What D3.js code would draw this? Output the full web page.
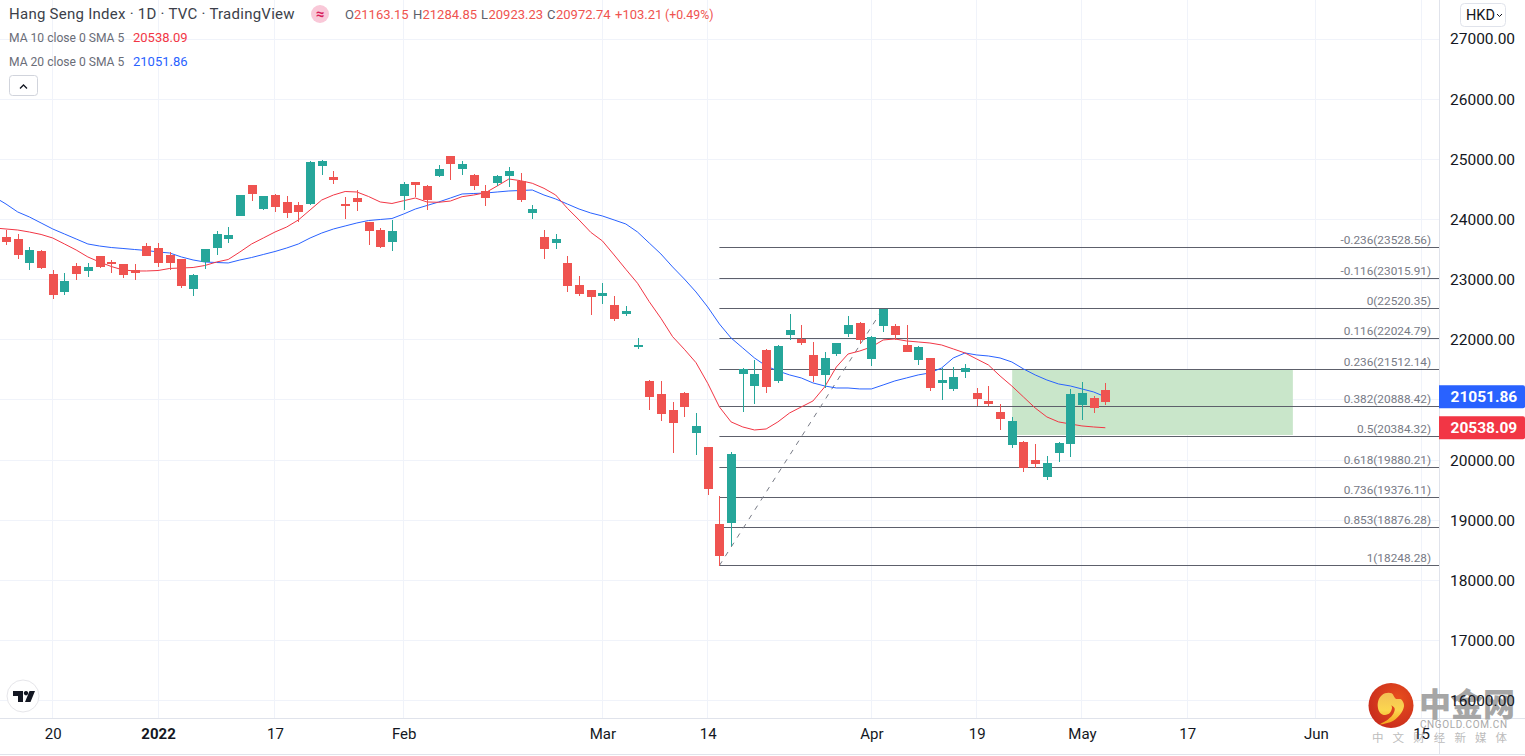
<!DOCTYPE html>
<html>
<head>
<meta charset="utf-8">
<title>Hang Seng Index</title>
<script src="https://cdn.jsdelivr.net/npm/d3@7"></script>
<style>
  html, body { margin: 0; padding: 0; background: #fff; overflow: hidden; }
  svg { display: block; font-family: Roboto, sans-serif; }
  .axis text { fill: #131722; }
</style>
</head>
<body>
<svg id="chart" width="1525" height="756"></svg>
<script>
// Daily candles, oldest first
const opens = [23709,23676,23277,23476,23095,22795,23227,23144,23393,23293,23260,23161,23559,23526,23410,23343,22845,23293,23526,23676,
  24058,24573,24174,24407,24291,24241,24257,24889,24706,24257,24357,23958,23825,23626,24390,24623,24557,24723,25055,24839,
  24740,24474,24606,24723,24640,24108,23709,23609,23277,22911,22828,22728,22579,22429,21881,21315,21100,20834,21117,20451,
  20219,18939,18956,21432,21233,21831,21316,22080,22014,21748,21416,21765,22097,22280,21681,22230,22230,21914,21665,21698,
  21283,21183,21466,21117,20983,20801,20252,20302,20003,19720,20119,20269,20917,21033,21163.15];
const highs = [23825,23759,23543,23490,23161,23111,23277,23277,23400,23327,23265,23260,23609,23609,23460,23350,23095,23515,23809,23875,
  24415,24580,24395,24424,24390,24291,24965,24989,24806,24374,24490,23965,23859,23992,24623,24630,24565,24906,25062,24972,
  24748,24573,24740,24873,24773,24241,23825,23759,23393,23061,22835,22944,22728,22562,22030,21332,21315,20967,21133,20784,
  20225,19404,20136,21525,21665,21840,21914,22429,22246,21964,21798,21955,22396,22290,22055,22520,22263,22246,21890,21705,
  21532,21549,21598,21200,21233,20934,20718,20310,20269,20070,20302,21183,21299,21067,21284.85];
const lows = [23576,23343,23161,23177,22678,22745,22994,23044,23194,23111,23028,22994,23385,23211,23161,22861,22728,23177,23410,23609,
  24050,24307,24158,24125,24025,23958,24241,24740,24590,24008,24141,23576,23526,23476,24158,24374,24158,24706,24656,24740,
  24490,24224,24557,24540,24291,24008,23343,23510,22795,22728,22413,22596,22313,22396,21848,20834,20651,20119,20717,20086,
  19421,18248,18573,20801,20934,21116,21283,21997,21914,21299,21199,21731,22047,21931,21565,22130,21997,21790,21582,21150,
  21000,21150,21366,20900,20900,20501,20202,19804,19870,19670,19970,20053,20668,20784,20923.23];
const closes = [23626,23410,23493,23194,22745,22978,23095,23211,23211,23268,23078,23111,23393,23277,23277,22895,23078,23510,23759,23742,
  24407,24424,24390,24208,24108,24125,24956,24972,24656,24241,24291,23809,23543,23809,24590,24573,24324,24839,24922,24922,
  24557,24357,24723,24806,24324,24174,23510,23676,22895,22762,22712,22778,22346,22479,21914,21050,20767,20618,20884,20568,
  19521,18407,20103,21515,21432,21216,21897,22163,21947,21399,21698,21947,22246,21997,22047,22512,22080,21798,21881,21199,
  21332,21382,21532,21017,20934,20684,20651,19870,19936,19953,20285,21100,21117,20869.53,20972.74];

// Moving averages; the first reading belongs to the session just before the first candle
const ma10 = [23859,23842,23825,23792,23751,23692,23593,23493,23377,23293,23219,23161,23144,23144,23152,23186,23194,23202,23235,23293,23335,
  23460,23593,23692,23792,23875,23992,24158,24324,24407,24465,24457,24382,24291,24266,24312,24357,24291,24286,24307,24379,
  24407,24445,24557,24673,24645,24602,24518,24407,24186,23992,23787,23643,23410,23172,22940,22634,22358,22052,21843,21620,
  21278,20884,20635,20551,20501,20518,20635,20784,20884,20983,21216,21548,21764,21814,21881,21997,22014,21981,21964,21947,
  21914,21848,21781,21681,21582,21399,21233,21050,20867,20718,20635,20601,20568,20551,20538.09];
const ma20 = [24374,24257,24125,24042,23942,23842,23759,23676,23593,23559,23534,23518,23501,23485,23460,23443,23377,23327,23293,23285,23277,
  23327,23368,23418,23468,23526,23593,23692,23775,23842,23892,23942,23983,24000,24016,24091,24174,24233,24291,24357,24424,
  24432,24440,24457,24474,24482,24490,24407,24341,24257,24174,24108,24058,23992,23925,23792,23609,23427,23211,23011,22795,
  22546,22263,22030,21864,21698,21565,21482,21416,21366,21283,21233,21199,21199,21183,21183,21249,21316,21366,21416,21449,
  21532,21698,21781,21748,21731,21698,21632,21516,21416,21332,21266,21233,21183,21133,21051.86];

// Fibonacci retracement levels
const fibRatios = ["-0.236","-0.116","0","0.116","0.236","0.382","0.5","0.618","0.736","0.853","1"];
const fibPrices = [23528.56,23015.91,22520.35,22024.79,21512.14,20888.42,20384.32,19880.21,19376.11,18876.28,18248.28];
const fibAnchor = [61, 75];          // candle indices of the swing low and high
const trendPrices = [18248.28, 22520.35];

// Shaded projection box
const boxIndex = [86, 110];
const boxPrices = [21498, 20418];

// Axis ticks
const priceTicks = [27000,26000,25000,24000,23000,22000,21000,20000,19000,18000,17000,16000];
const timeTickIndex = [4,13,23,34,51,60,74,83,92,101,112,121];
const timeTickLabels = ["20","2022","17","Feb","Mar","14","Apr","19","May","17","Jun","15"];

// Legend readings
const ohlcKeys = ["O","H","L","C"];
const ohlcValues = ["21163.15","21284.85","20923.23","20972.74"];
const changeText = ["+103.21","(+0.49%)"];
const lastMa10 = 20538.09, lastMa20 = 21051.86;

const W = 1525, H = 756, plotRight = 1439, plotBottom = 718;
const UP = "#26a69a", DOWN = "#ef5350", RED_LINE = "#f23645", BLUE_LINE = "#2962ff";
const GRID = "#f0f3fa", BORDER = "#e0e3eb", TEXT_GREY = "#787b86";

const x = d3.scaleLinear().domain([0, 94]).range([6, 6 + 94 * 11.695]);
const y = d3.scaleLinear().domain([18248.28, 22520.35]).range([565.5, 308.5]);
const snap = v => Math.round(v - 0.5) + 0.5;

const svg = d3.select("#chart");
svg.append("rect").attr("width", W).attr("height", H).attr("fill", "#fff");

// Grid
const grid = svg.append("g").attr("stroke", GRID).attr("stroke-width", 1);
grid.selectAll(".h").data(priceTicks).join("line")
  .attr("x1", 0).attr("x2", plotRight)
  .attr("y1", d => snap(y(d))).attr("y2", d => snap(y(d)));
grid.selectAll(".v").data(timeTickIndex).join("line")
  .attr("y1", 0).attr("y2", plotBottom)
  .attr("x1", d => snap(x(d))).attr("x2", d => snap(x(d)));

// Projection box
svg.append("rect")
  .attr("x", x(boxIndex[0]) + 0.4).attr("width", x(boxIndex[1]) - x(boxIndex[0]))
  .attr("y", y(boxPrices[0])).attr("height", y(boxPrices[1]) - y(boxPrices[0]))
  .attr("fill", "#c9e6ca");

// Retracement lines and their labels
const fibLeft = x(fibAnchor[0]);
const fib = svg.append("g");
fib.selectAll("line").data(fibPrices).join("line")
  .attr("x1", fibLeft).attr("x2", plotRight)
  .attr("y1", d => snap(y(d))).attr("y2", d => snap(y(d)))
  .attr("stroke", "#5d606b").attr("stroke-width", 1);
fib.selectAll("text").data(fibPrices).join("text")
  .attr("x", 1431).attr("y", d => y(d) - 3.5)
  .attr("text-anchor", "end")
  .attr("font-size", 11.8).attr("fill", TEXT_GREY)
  .text((d, i) => `${fibRatios[i]}(${d.toFixed(2)})`);

// Dashed swing line
svg.append("line")
  .attr("x1", x(fibAnchor[0])).attr("y1", y(trendPrices[0]))
  .attr("x2", x(fibAnchor[1])).attr("y2", y(trendPrices[1]))
  .attr("stroke", "#787b86").attr("stroke-width", 1).attr("stroke-dasharray", "5 6");

// Moving average lines
const maLine = d3.line().x((d, i) => x(i - 1)).y(d => y(d));
svg.append("path").attr("d", maLine(ma20)).attr("fill", "none").attr("stroke", BLUE_LINE).attr("stroke-width", 1);
svg.append("path").attr("d", maLine(ma10)).attr("fill", "none").attr("stroke", RED_LINE).attr("stroke-width", 1);

// Candles
const candles = svg.append("g").selectAll("g").data(opens).join("g")
  .attr("fill", (d, i) => closes[i] >= d ? UP : DOWN);
candles.append("rect")
  .attr("x", (d, i) => Math.round(x(i)))
  .attr("width", 1)
  .attr("y", (d, i) => Math.round(y(highs[i])))
  .attr("height", (d, i) => Math.max(1, Math.round(y(lows[i])) - Math.round(y(highs[i]))));
candles.append("rect")
  .attr("x", (d, i) => Math.round(x(i)) - 4)
  .attr("width", 9)
  .attr("y", (d, i) => Math.round(y(Math.max(d, closes[i]))))
  .attr("height", (d, i) => Math.max(2, Math.round(y(Math.min(d, closes[i]))) - Math.round(y(Math.max(d, closes[i])))));

// Frame of the price and time scales
const frame = svg.append("g").attr("stroke", BORDER).attr("stroke-width", 1);
frame.append("line").attr("x1", 0).attr("x2", W).attr("y1", plotBottom + 0.5).attr("y2", plotBottom + 0.5);
frame.append("line").attr("x1", 0).attr("x2", W).attr("y1", 754.5).attr("y2", 754.5);
frame.append("line").attr("x1", plotRight + 0.5).attr("x2", plotRight + 0.5).attr("y1", 0).attr("y2", 755);

// Publisher watermark, underneath the axis labels
const defs = svg.append("defs");
const grad = defs.append("radialGradient").attr("id", "seal").attr("cx", "65%").attr("cy", "35%").attr("r", "75%");
grad.append("stop").attr("offset", "0%").attr("stop-color", "#e84e1e");
grad.append("stop").attr("offset", "100%").attr("stop-color", "#c72a1c");
const swirl = defs.append("linearGradient").attr("id", "swirl").attr("x1", "0").attr("y1", "0").attr("x2", "0").attr("y2", "1");
swirl.append("stop").attr("offset", "0%").attr("stop-color", "#f3bf55");
swirl.append("stop").attr("offset", "55%").attr("stop-color", "#fbd64f");
swirl.append("stop").attr("offset", "100%").attr("stop-color", "#f5a31c");
const mark = svg.append("g");
mark.append("circle").attr("cx", 1391).attr("cy", 705.5).attr("r", 22.5).attr("fill", "url(#seal)");
const swirlOutline = [[1380,724.3],[1393.3,720.7],[1401.7,712.3],[1404,705],[1401,699.3],[1395.7,698.7],[1391.7,693.3],[1385,693.3],
  [1379.3,698.3],[1377.7,706],[1380,712.7],[1385,715],[1390,712.7],[1392,707.3],[1389,702.7],[1384.3,704.5],
  [1389.5,704.5],[1394.5,708],[1393.5,713.5],[1388,719.5]];
mark.append("path").attr("fill", "url(#swirl)")
  .attr("d", d3.line().curve(d3.curveCatmullRomClosed)(swirlOutline));
mark.append("text").attr("x", 1419).attr("y", 716).attr("font-family", "'Noto Sans CJK SC'").attr("font-weight", 900)
  .attr("font-size", 32).attr("fill", "#a6a6a6").text("中金网");
mark.append("text").attr("x", 1420).attr("y", 727.5).attr("font-size", 10).attr("letter-spacing", 0.6)
  .attr("fill", "#a9a9a9").text("CNGOLD.COM.CN");
mark.append("text").attr("x", 1372).attr("y", 742).attr("font-family", "'Noto Sans CJK SC'").attr("font-size", 11.5)
  .attr("letter-spacing", 9.1).attr("fill", "#bcbcbc").text("中文财经新媒体");

// Price axis
const yAxis = d3.axisRight(y).tickValues(priceTicks).tickSize(0).tickPadding(11).tickFormat(d => d.toFixed(2));
const yg = svg.append("g").attr("class", "axis").attr("transform", `translate(${plotRight},0)`).call(yAxis);
yg.select(".domain").remove();
yg.selectAll("text").attr("font-size", 15.5).attr("font-family", "Roboto, sans-serif");

// Time axis
const xAxis = d3.axisBottom(x).tickValues(timeTickIndex).tickSize(0).tickPadding(10)
  .tickFormat((d, i) => timeTickLabels[i]);
const xg = svg.append("g").attr("class", "axis").attr("transform", `translate(0,${plotBottom})`).call(xAxis);
xg.select(".domain").remove();
xg.selectAll("text").attr("font-size", 15).attr("font-family", "Roboto, sans-serif")
  .attr("font-weight", (d, i) => timeTickLabels[i] === "2022" ? 700 : 400);

// Last value tags on the price scale
const tags = [[lastMa20, BLUE_LINE], [lastMa10, RED_LINE]];
const tagG = svg.append("g").selectAll("g").data(tags).join("g");
tagG.append("path")
  .attr("fill", d => d[1])
  .attr("d", d => {
    const t = y(d[0]) - 11.5, b = y(d[0]) + 11.5;
    return `M${plotRight},${t}H1523a2,2 0 0 1 2,2V${b - 2}a2,2 0 0 1 -2,2H${plotRight}Z`;
  });
tagG.append("text")
  .attr("x", 1450.5).attr("y", d => y(d[0]) + 5.5)
  .attr("font-size", 15.5).attr("font-weight", 700).attr("fill", "#fff")
  .text(d => d[0].toFixed(2));

// Legend
const legend = svg.append("g");
legend.append("text").attr("x", 9).attr("y", 19).attr("font-size", 15).attr("fill", "#3c3f4a")
  .attr("letter-spacing", 0.26).text("Hang Seng Index · 1D · TVC · TradingView");
legend.append("circle").attr("cx", 320).attr("cy", 14).attr("r", 9).attr("fill", "#f9c8d8");
legend.append("text").attr("x", 320).attr("y", 19).attr("text-anchor", "middle")
  .attr("font-size", 15).attr("font-weight", 700).attr("fill", "#d81e5b").text("≈");

const keyX = [345, 413, 481, 547], valX = [354, 422.5, 488.5, 556];
ohlcKeys.forEach((k, i) => {
  legend.append("text").attr("x", keyX[i]).attr("y", 19).attr("font-size", 13).attr("fill", "#5d606b").text(k);
  legend.append("text").attr("x", valX[i]).attr("y", 19).attr("font-size", 13).attr("fill", DOWN).text(ohlcValues[i]);
});
legend.append("text").attr("x", 615).attr("y", 19).attr("font-size", 13).attr("fill", DOWN).text(changeText[0]);
legend.append("text").attr("x", 665).attr("y", 19).attr("font-size", 12.3).attr("fill", DOWN).text(changeText[1]);

[["MA 10 close 0 SMA 5", lastMa10, RED_LINE, 42], ["MA 20 close 0 SMA 5", lastMa20, BLUE_LINE, 66]].forEach(r => {
  legend.append("text").attr("x", 9).attr("y", r[3]).attr("font-size", 12.1).attr("fill", "#6a6d78").text(r[0]);
  legend.append("text").attr("x", 133).attr("y", r[3]).attr("font-size", 13).attr("fill", r[2]).text(r[1].toFixed(2));
});

// Collapse button under the legend
legend.append("rect").attr("x", 9.5).attr("y", 75.5).attr("width", 28).attr("height", 20).attr("rx", 3)
  .attr("fill", "#fff").attr("stroke", "#d1d4dc");
legend.append("path").attr("d", "M20,88.5l3.5,-3.5l3.5,3.5").attr("fill", "none").attr("stroke", "#131722").attr("stroke-width", 1.3);

// Currency button
svg.append("rect").attr("x", 1460.5).attr("y", 3.5).attr("width", 45).attr("height", 23).attr("rx", 4)
  .attr("fill", "#fff").attr("stroke", BORDER);
svg.append("text").attr("x", 1466).attr("y", 20).attr("font-size", 14.5).attr("fill", "#131722").text("HKD");
svg.append("path").attr("d", "M1497,14l2.5,2.5l2.5,-2.5").attr("fill", "none").attr("stroke", "#131722").attr("stroke-width", 1);

// TradingView badge
const badge = svg.append("g");
badge.append("circle").attr("cx", 23).attr("cy", 696).attr("r", 16).attr("fill", "#fff").attr("stroke", "#e6e6ea");
badge.append("path").attr("fill", "#131722")
  .attr("d", "M13,691H23V702H18V696H13Z M26,691a2.2,2.2 0 1 0 0.01,0Z M29.5,691H35L30.5,702H25Z");
</script>
</body>
</html>
